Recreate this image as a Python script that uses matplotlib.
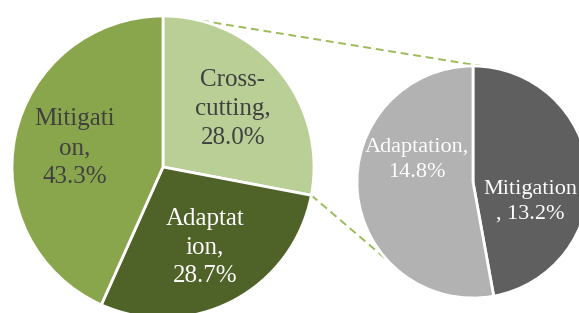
import matplotlib
matplotlib.use("Agg")
import matplotlib.pyplot as plt
import numpy as np

# main pie (clockwise from 12 o'clock)
main_labels = ["Cross-\ncutting,\n28.0%", "Adaptat\nion,\n28.7%", "Mitigati\non,\n43.3%"]
main_values = [28.0, 28.7, 43.3]
main_colors = ["#b9cf96", "#4f6228", "#8aa64d"]
main_textc = ["#404040", "white", "#404040"]

# secondary pie: breakdown of cross-cutting
sub_labels = ["Mitigation\n, 13.2%", "Adaptation,\n14.8%"]
sub_values = [13.2, 14.8]
sub_colors = ["#5f5f5f", "#b2b2b2"]
sub_textc = ["white", "white"]

plt.rcParams["font.family"] = ["Liberation Serif", "DejaVu Serif"]

fig = plt.figure(figsize=(5.79, 3.13), dpi=100)
ax = fig.add_axes([0, 0, 1, 1])

c1, r1 = (163, 146), 151
c2, r2 = (473, 131), 116

w1, _ = ax.pie(main_values, colors=main_colors, startangle=90, counterclock=False,
               center=c1, radius=r1, frame=True,
               wedgeprops=dict(edgecolor="white", linewidth=2))
w2, _ = ax.pie(sub_values, colors=sub_colors, startangle=90, counterclock=False,
               center=c2, radius=r2, frame=True,
               wedgeprops=dict(edgecolor="white", linewidth=2))

# labels on main pie
for w, lab, tc in zip(w1, main_labels, main_textc):
    a = np.deg2rad((w.theta1 + w.theta2) / 2)
    ax.text(c1[0] + 0.6 * r1 * np.cos(a), c1[1] + 0.6 * r1 * np.sin(a), lab,
            ha="center", va="center", fontsize=18, color=tc, linespacing=1.4)

# labels on secondary pie (Excel-style offsets)
sub_pos = [(57, -20), (-56, 22)]
for (dx, dy), lab, tc in zip(sub_pos, sub_labels, sub_textc):
    ax.text(c2[0] + dx, c2[1] + dy, lab, ha="center", va="center",
            fontsize=16, color=tc, linespacing=1.37)

# connector lines from the cross-cutting slice to the secondary pie
cc = w1[0]
starts = [np.deg2rad(85), np.deg2rad(cc.theta1)]
ends = [np.deg2rad(84), np.deg2rad(222.5)]
for s, e in zip(starts, ends):
    ax.plot([c1[0] + r1 * np.cos(s), c2[0] + r2 * np.cos(e)],
            [c1[1] + r1 * np.sin(s), c2[1] + r2 * np.sin(e)],
            color="#9bbb59", lw=1.4, ls=(0, (4, 2.5)), zorder=0)

ax.set_xlim(0, 579)
ax.set_ylim(0, 313)
ax.set_aspect("equal")
ax.axis("off")

fig.savefig("out.png", dpi=100)
